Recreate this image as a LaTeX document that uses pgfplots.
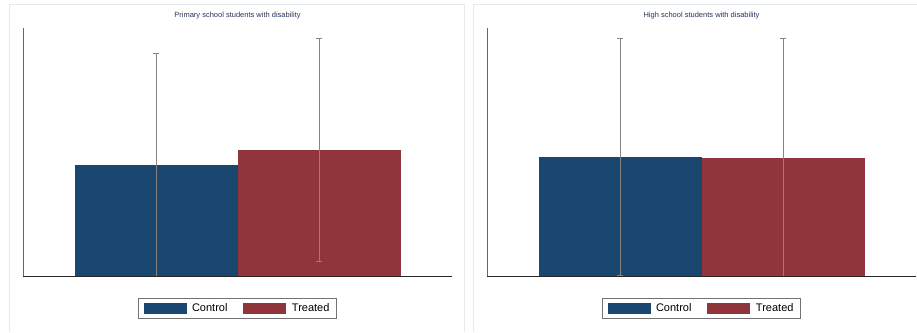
\documentclass[border=0pt]{standalone}
\usepackage{fontspec}
\setmainfont{Liberation Sans}
\usepackage{pgfplots}
\pgfplotsset{compat=1.18}
\definecolor{ctrl}{HTML}{1A476F}
\definecolor{treat}{HTML}{90353B}
\definecolor{errg}{HTML}{858585}
\definecolor{panel}{HTML}{E4EBEF}
\definecolor{ttl}{HTML}{26335A}
\pgfplotsset{
  mybar/.style={ybar, bar width=163, bar shift=0pt, draw=none},
  myerr/.style={error bars/.cd, y dir=both, y explicit,
     error bar style={draw=errg, line width=1pt},
     error mark options={draw=errg, mark size=3pt, line width=1pt, rotate=90}},
  panelaxis/.style={
    anchor=south west, scale only axis, width=429pt, height=248pt,
    xmin=0, xmax=429, ymin=0, ymax=248,
    axis x line*=bottom, axis y line*=left,
    x axis line style={-, draw=black!85, line width=0.8pt},
    y axis line style={-, draw=black!60, line width=0.8pt},
    xtick=\empty, ytick=\empty, axis on top,
    title style={at={(0.5,1)}, anchor=base, yshift=4pt, inner sep=0pt,
       font=\fontsize{7.5}{8}\selectfont, text=ttl},
    legend columns=2,
    legend style={at={(0.5,0)}, anchor=center, yshift=-32.5pt,
       draw=black!55, line width=0.8pt, inner xsep=5pt, inner ysep=3.5pt,
       font=\fontsize{11}{12}\selectfont,
       /tikz/every odd column/.append style={column sep=3.5pt},
       /tikz/every even column/.append style={column sep=14pt}},
    legend image code/.code={\draw[#1,draw=none] (0pt,-5.8pt) rectangle (43pt,5.8pt);},
  }
}
\begin{document}
\begin{tikzpicture}
\useasboundingbox (0pt,0pt) rectangle (917pt,332pt);
\draw[panel, line width=0.8pt] (9pt,0pt) -- (9pt,328pt) -- (464pt,328pt) -- (464pt,0pt);
\draw[panel, line width=0.8pt] (473pt,0pt) -- (473pt,328pt) -- (918pt,328pt);
\begin{axis}[panelaxis, at={(23pt,56pt)},
  title={Primary school students with disability},
  legend entries={Control,Treated}]
\addplot[mybar, fill=ctrl, myerr] coordinates {(133,111) +- (0,111)};
\addplot[mybar, fill=treat, myerr] coordinates {(296,126) +- (0,111)};
\end{axis}
\begin{axis}[panelaxis, at={(487pt,56pt)},
  title={High school students with disability},
  legend entries={Control,Treated}]
\addplot[mybar, fill=ctrl, myerr] coordinates {(133,119) +- (0,118)};
\addplot[mybar, fill=treat, myerr] coordinates {(296,118) +- (0,119)};
\end{axis}
\end{tikzpicture}
\end{document}
